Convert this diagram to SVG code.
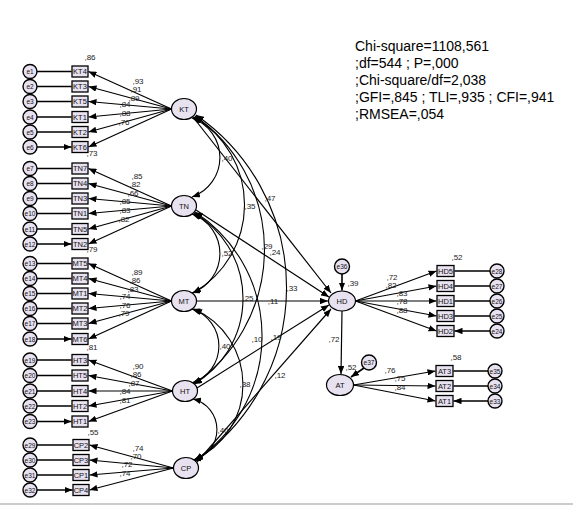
<svg xmlns="http://www.w3.org/2000/svg" width="573" height="506" viewBox="0 0 573 506">
<defs>
<marker id="ah" viewBox="0 0 10 8" refX="10" refY="4" markerWidth="8" markerHeight="6.5" markerUnits="userSpaceOnUse" orient="auto"><path d="M0,0 L10,4 L0,8 z" fill="#000"/></marker>
<marker id="ahs" viewBox="0 0 10 8" refX="10" refY="4" markerWidth="8" markerHeight="6.5" markerUnits="userSpaceOnUse" orient="auto-start-reverse"><path d="M0,0 L10,4 L0,8 z" fill="#000"/></marker>
</defs>
<style>
.bx{fill:#e8e1f0;stroke:#000;stroke-width:1.3}
.lat{fill:#e8e1f0;stroke:#000;stroke-width:1.2}
.er{fill:#e8e1f0;stroke:#000;stroke-width:1.4}
.t{font-family:"Liberation Sans",Arial,sans-serif;font-size:7.5px;text-anchor:middle;fill:#111}
.te{font-family:"Liberation Sans",Arial,sans-serif;font-size:6.5px;text-anchor:middle;fill:#111}
.n{font-family:"Liberation Sans",Arial,sans-serif;font-size:8px;text-anchor:middle;fill:#222}
.st{font-family:"Liberation Sans",Arial,sans-serif;font-size:14px;fill:#000}
.ln{fill:none;stroke:#000;stroke-width:1.2;marker-end:url(#ah)}
.el{fill:none;stroke:#000;stroke-width:1.6;marker-end:url(#ah)}
.cv{fill:none;stroke:#000;stroke-width:1.1;marker-start:url(#ahs);marker-end:url(#ah)}
</style>
<rect width="573" height="506" fill="#fff"/>
<line x1="0" y1="504" x2="573" y2="504" stroke="#bbb" stroke-width="1.5"/>

<g id="connectors">
<path class="el" d="M37,71.5H71.5M37,86.5H71.5M37,101.5H71.5M37,117H71.5M37,132H71.5M37,147H71.5"/>
<path class="el" d="M37,168.5H71.5M37,183.5H71.5M37,198.5H71.5M37,213.5H71.5M37,229H71.5M37,244H71.5"/>
<path class="el" d="M37,263.5H71.5M37,278.5H71.5M37,293.5H71.5M37,308.5H71.5M37,323.5H71.5M37,339H71.5"/>
<path class="el" d="M37,360H71.5M37,375.5H71.5M37,391H71.5M37,406H71.5M37,421.5H71.5"/>
<path class="el" d="M37,445H72.5M37,460H72.5M37,475H72.5M37,490H72.5"/>
<path class="ln" d="M171.5,109L88.5,71.5"/><path class="ln" d="M171.5,109L88.5,86.5"/><path class="ln" d="M171.5,109L88.5,101.5"/><path class="ln" d="M171.5,109L88.5,117"/><path class="ln" d="M171.5,109L88.5,132"/><path class="ln" d="M171.5,109L88.5,147"/>
<path class="ln" d="M171.5,206L88.5,168.5"/><path class="ln" d="M171.5,206L88.5,183.5"/><path class="ln" d="M171.5,206L88.5,198.5"/><path class="ln" d="M171.5,206L88.5,213.5"/><path class="ln" d="M171.5,206L88.5,229"/><path class="ln" d="M171.5,206L88.5,244"/>
<path class="ln" d="M171.5,301L88.5,263.5"/><path class="ln" d="M171.5,301L88.5,278.5"/><path class="ln" d="M171.5,301L88.5,293.5"/><path class="ln" d="M171.5,301L88.5,308.5"/><path class="ln" d="M171.5,301L88.5,323.5"/><path class="ln" d="M171.5,301L88.5,339"/>
<path class="ln" d="M172.5,391L88.5,360"/><path class="ln" d="M172.5,391L88.5,375.5"/><path class="ln" d="M172.5,391L88.5,391"/><path class="ln" d="M172.5,391L88.5,406"/><path class="ln" d="M172.5,391L88.5,421.5"/>
<path class="ln" d="M173.5,468L89.5,445"/><path class="ln" d="M173.5,468L89.5,460"/><path class="ln" d="M173.5,468L89.5,475"/><path class="ln" d="M173.5,468L89.5,490"/>
<path class="cv" d="M192,118A41.9,41.9 0 0 1 192,197"/>
<path class="cv" d="M194,117A101.4,101.4 0 0 1 193,293"/>
<path class="cv" d="M195,116A163.3,163.3 0 0 1 194,384"/>
<path class="cv" d="M196,115A209.9,209.9 0 0 1 195,461"/>
<path class="cv" d="M192,214A41.9,41.9 0 0 1 192,293"/>
<path class="cv" d="M194,213A99.1,99.1 0 0 1 194,384"/>
<path class="cv" d="M195,212A148.2,148.2 0 0 1 195,460"/>
<path class="cv" d="M192,309A38.9,38.9 0 0 1 192,383"/>
<path class="cv" d="M194,309A82.7,82.7 0 0 1 194,460"/>
<path class="cv" d="M193,399A31.4,31.4 0 0 1 193,460"/>
<path class="ln" d="M193,117L331,293"/>
<path class="ln" d="M196,210L329,297"/>
<path class="ln" d="M196.5,301L328,301"/>
<path class="ln" d="M197,388L329,305"/>
<path class="ln" d="M197,462L331,309"/>
<path class="ln" d="M342,311L341,374"/>
<path class="el" d="M342,274L342,290.5"/>
<path class="el" d="M364,368L351,377"/>
<path class="ln" d="M355.5,301L436.5,271"/><path class="ln" d="M355.5,301L436.5,286"/><path class="ln" d="M355.5,301L436.5,301"/><path class="ln" d="M355.5,301L436.5,316"/><path class="ln" d="M355.5,301L436.5,331"/>
<path class="ln" d="M353.5,385L435.5,371"/><path class="ln" d="M353.5,385L435.5,386"/><path class="ln" d="M353.5,385L435.5,401"/>
<path class="el" d="M490,271H454.5M490,286H454.5M490,301H454.5M490,316H454.5M490,331H454.5"/>
<path class="el" d="M488,371H453.5M488,386H453.5M488,401H453.5"/>
</g>

<g id="errors-left">
<g id="e1"><circle class="er" cx="30" cy="71.5" r="7"/><text class="te" x="30" y="74">e1</text></g>
<g id="e2"><circle class="er" cx="30" cy="86.5" r="7"/><text class="te" x="30" y="89">e2</text></g>
<g id="e3"><circle class="er" cx="30" cy="101.5" r="7"/><text class="te" x="30" y="104">e3</text></g>
<g id="e4"><circle class="er" cx="30" cy="117" r="7"/><text class="te" x="30" y="119.5">e4</text></g>
<g id="e5"><circle class="er" cx="30" cy="132" r="7"/><text class="te" x="30" y="134.5">e5</text></g>
<g id="e6"><circle class="er" cx="30" cy="147" r="7"/><text class="te" x="30" y="149.5">e6</text></g>
<g id="e7"><circle class="er" cx="30" cy="168.5" r="7"/><text class="te" x="30" y="171">e7</text></g>
<g id="e8"><circle class="er" cx="30" cy="183.5" r="7"/><text class="te" x="30" y="186">e8</text></g>
<g id="e9"><circle class="er" cx="30" cy="198.5" r="7"/><text class="te" x="30" y="201">e9</text></g>
<g id="e10"><circle class="er" cx="30" cy="213.5" r="7"/><text class="te" x="30" y="216">e10</text></g>
<g id="e11"><circle class="er" cx="30" cy="229" r="7"/><text class="te" x="30" y="231.5">e11</text></g>
<g id="e12"><circle class="er" cx="30" cy="244" r="7"/><text class="te" x="30" y="246.5">e12</text></g>
<g id="e13"><circle class="er" cx="30" cy="263.5" r="7"/><text class="te" x="30" y="266">e13</text></g>
<g id="e14"><circle class="er" cx="30" cy="278.5" r="7"/><text class="te" x="30" y="281">e14</text></g>
<g id="e15"><circle class="er" cx="30" cy="293.5" r="7"/><text class="te" x="30" y="296">e15</text></g>
<g id="e16"><circle class="er" cx="30" cy="308.5" r="7"/><text class="te" x="30" y="311">e16</text></g>
<g id="e17"><circle class="er" cx="30" cy="323.5" r="7"/><text class="te" x="30" y="326">e17</text></g>
<g id="e18"><circle class="er" cx="30" cy="339" r="7"/><text class="te" x="30" y="341.5">e18</text></g>
<g id="e19"><circle class="er" cx="30" cy="360" r="7"/><text class="te" x="30" y="362.5">e19</text></g>
<g id="e20"><circle class="er" cx="30" cy="375.5" r="7"/><text class="te" x="30" y="378">e20</text></g>
<g id="e21"><circle class="er" cx="30" cy="391" r="7"/><text class="te" x="30" y="393.5">e21</text></g>
<g id="e22"><circle class="er" cx="30" cy="406" r="7"/><text class="te" x="30" y="408.5">e22</text></g>
<g id="e23"><circle class="er" cx="30" cy="421.5" r="7"/><text class="te" x="30" y="424">e23</text></g>
<g id="e29"><circle class="er" cx="30" cy="445" r="7"/><text class="te" x="30" y="447.5">e29</text></g>
<g id="e30"><circle class="er" cx="30" cy="460" r="7"/><text class="te" x="30" y="462.5">e30</text></g>
<g id="e31"><circle class="er" cx="30" cy="475" r="7"/><text class="te" x="30" y="477.5">e31</text></g>
<g id="e32"><circle class="er" cx="30" cy="490" r="7"/><text class="te" x="30" y="492.5">e32</text></g>
</g>

<g id="indicators-left">
<g id="KT4"><rect class="bx" x="72" y="66" width="16" height="11"/><text class="t" x="80" y="74.2">KT4</text></g>
<g id="KT3"><rect class="bx" x="72" y="81" width="16" height="11"/><text class="t" x="80" y="89.2">KT3</text></g>
<g id="KT5"><rect class="bx" x="72" y="96" width="16" height="11"/><text class="t" x="80" y="104.2">KT5</text></g>
<g id="KT1"><rect class="bx" x="72" y="111.5" width="16" height="11"/><text class="t" x="80" y="119.7">KT1</text></g>
<g id="KT2"><rect class="bx" x="72" y="126.5" width="16" height="11"/><text class="t" x="80" y="134.7">KT2</text></g>
<g id="KT6"><rect class="bx" x="72" y="141.5" width="16" height="11"/><text class="t" x="80" y="149.7">KT6</text></g>
<g id="TN7"><rect class="bx" x="72" y="163" width="16" height="11"/><text class="t" x="80" y="171.2">TN7</text></g>
<g id="TN4"><rect class="bx" x="72" y="178" width="16" height="11"/><text class="t" x="80" y="186.2">TN4</text></g>
<g id="TN3"><rect class="bx" x="72" y="193" width="16" height="11"/><text class="t" x="80" y="201.2">TN3</text></g>
<g id="TN1"><rect class="bx" x="72" y="208" width="16" height="11"/><text class="t" x="80" y="216.2">TN1</text></g>
<g id="TN5"><rect class="bx" x="72" y="223.5" width="16" height="11"/><text class="t" x="80" y="231.7">TN5</text></g>
<g id="TN2"><rect class="bx" x="72" y="238.5" width="16" height="11"/><text class="t" x="80" y="246.7">TN2</text></g>
<g id="MT5"><rect class="bx" x="72" y="258" width="16" height="11"/><text class="t" x="80" y="266.2">MT5</text></g>
<g id="MT4"><rect class="bx" x="72" y="273" width="16" height="11"/><text class="t" x="80" y="281.2">MT4</text></g>
<g id="MT1"><rect class="bx" x="72" y="288" width="16" height="11"/><text class="t" x="80" y="296.2">MT1</text></g>
<g id="MT2"><rect class="bx" x="72" y="303" width="16" height="11"/><text class="t" x="80" y="311.2">MT2</text></g>
<g id="MT3"><rect class="bx" x="72" y="318" width="16" height="11"/><text class="t" x="80" y="326.2">MT3</text></g>
<g id="MT6"><rect class="bx" x="72" y="333.5" width="16" height="11"/><text class="t" x="80" y="341.7">MT6</text></g>
<g id="HT3"><rect class="bx" x="72" y="354.5" width="16" height="11"/><text class="t" x="80" y="362.7">HT3</text></g>
<g id="HT5"><rect class="bx" x="72" y="370" width="16" height="11"/><text class="t" x="80" y="378.2">HT5</text></g>
<g id="HT4"><rect class="bx" x="72" y="385.5" width="16" height="11"/><text class="t" x="80" y="393.7">HT4</text></g>
<g id="HT2"><rect class="bx" x="72" y="400.5" width="16" height="11"/><text class="t" x="80" y="408.7">HT2</text></g>
<g id="HT1"><rect class="bx" x="72" y="416" width="16" height="11"/><text class="t" x="80" y="424.2">HT1</text></g>
<g id="CP2"><rect class="bx" x="73" y="439.5" width="16" height="11"/><text class="t" x="81" y="447.7">CP2</text></g>
<g id="CP3"><rect class="bx" x="73" y="454.5" width="16" height="11"/><text class="t" x="81" y="462.7">CP3</text></g>
<g id="CP1"><rect class="bx" x="73" y="469.5" width="16" height="11"/><text class="t" x="81" y="477.7">CP1</text></g>
<g id="CP4"><rect class="bx" x="73" y="484.5" width="16" height="11"/><text class="t" x="81" y="492.7">CP4</text></g>
</g>

<g id="latents">
<g id="KT"><ellipse class="lat" cx="184" cy="109" rx="12.5" ry="10.5"/><text class="t" x="184" y="111.7">KT</text></g>
<g id="TN"><ellipse class="lat" cx="184" cy="206" rx="12.5" ry="10.5"/><text class="t" x="184" y="208.7">TN</text></g>
<g id="MT"><ellipse class="lat" cx="184" cy="301" rx="12.5" ry="10.5"/><text class="t" x="184" y="303.7">MT</text></g>
<g id="HT"><ellipse class="lat" cx="185" cy="391" rx="12.5" ry="10.5"/><text class="t" x="185" y="393.7">HT</text></g>
<g id="CP"><ellipse class="lat" cx="186" cy="468" rx="12.5" ry="10.5"/><text class="t" x="186" y="470.7">CP</text></g>
<g id="HD"><ellipse class="lat" cx="342" cy="301" rx="13.5" ry="10"/><text class="t" x="342" y="303.7">HD</text></g>
<g id="AT"><ellipse class="lat" cx="340" cy="385" rx="13.5" ry="10.5"/><text class="t" x="340" y="387.7">AT</text></g>
<g id="e36"><circle class="er" cx="342" cy="266.5" r="7.5"/><text class="te" x="342" y="269">e36</text></g>
<g id="e37"><circle class="er" cx="369" cy="362.5" r="7.5"/><text class="te" x="369" y="365">e37</text></g>
</g>

<g id="indicators-right">
<g id="HD5"><rect class="bx" x="437" y="265.5" width="17" height="11"/><text class="t" x="445.5" y="273.7">HD5</text></g>
<g id="HD4"><rect class="bx" x="437" y="280.5" width="17" height="11"/><text class="t" x="445.5" y="288.7">HD4</text></g>
<g id="HD1"><rect class="bx" x="437" y="295.5" width="17" height="11"/><text class="t" x="445.5" y="303.7">HD1</text></g>
<g id="HD3"><rect class="bx" x="437" y="310.5" width="17" height="11"/><text class="t" x="445.5" y="318.7">HD3</text></g>
<g id="HD2"><rect class="bx" x="437" y="325.5" width="17" height="11"/><text class="t" x="445.5" y="333.7">HD2</text></g>
<g id="AT3"><rect class="bx" x="436" y="365.5" width="17" height="11"/><text class="t" x="444.5" y="373.7">AT3</text></g>
<g id="AT2"><rect class="bx" x="436" y="380.5" width="17" height="11"/><text class="t" x="444.5" y="388.7">AT2</text></g>
<g id="AT1"><rect class="bx" x="436" y="395.5" width="17" height="11"/><text class="t" x="444.5" y="403.7">AT1</text></g>
<g id="e28"><circle class="er" cx="497" cy="271" r="7"/><text class="te" x="497" y="273.5">e28</text></g>
<g id="e27"><circle class="er" cx="497" cy="286" r="7"/><text class="te" x="497" y="288.5">e27</text></g>
<g id="e26"><circle class="er" cx="497" cy="301" r="7"/><text class="te" x="497" y="303.5">e26</text></g>
<g id="e25"><circle class="er" cx="497" cy="316" r="7"/><text class="te" x="497" y="318.5">e25</text></g>
<g id="e24"><circle class="er" cx="497" cy="331" r="7"/><text class="te" x="497" y="333.5">e24</text></g>
<g id="e35"><circle class="er" cx="495" cy="371" r="7"/><text class="te" x="495" y="373.5">e35</text></g>
<g id="e34"><circle class="er" cx="495" cy="386" r="7"/><text class="te" x="495" y="388.5">e34</text></g>
<g id="e33"><circle class="er" cx="495" cy="401" r="7"/><text class="te" x="495" y="403.5">e33</text></g>
</g>

<g id="estimates">
<text class="n" x="138" y="84">,93</text><text class="n" x="136" y="92">,91</text><text class="n" x="134" y="100.5">,89</text>
<text class="n" x="125" y="107">,84</text><text class="n" x="125" y="115.5">,88</text><text class="n" x="124" y="125">,76</text>
<text class="n" x="137" y="179">,85</text><text class="n" x="135" y="187">,82</text><text class="n" x="133" y="195.5">,66</text>
<text class="n" x="125" y="204">,85</text><text class="n" x="125" y="213">,83</text><text class="n" x="124" y="222">,82</text>
<text class="n" x="137" y="275">,89</text><text class="n" x="135" y="283">,86</text><text class="n" x="133" y="291.5">,83</text>
<text class="n" x="125" y="299">,74</text><text class="n" x="125" y="307.5">,76</text><text class="n" x="124" y="316">,79</text>
<text class="n" x="138" y="369">,90</text><text class="n" x="136" y="377">,86</text><text class="n" x="134" y="385.5">,87</text>
<text class="n" x="125" y="394">,84</text><text class="n" x="125" y="403">,81</text>
<text class="n" x="138" y="451">,74</text><text class="n" x="136" y="459">,70</text><text class="n" x="127" y="467">,72</text><text class="n" x="125" y="475.5">,74</text>
<text class="n" x="90" y="60">,86</text><text class="n" x="92" y="156">,73</text><text class="n" x="92" y="252">,79</text><text class="n" x="92" y="350">,81</text><text class="n" x="93" y="434.5">,55</text>
<text class="n" x="227" y="161">,40</text><text class="n" x="250" y="209">,35</text><text class="n" x="270" y="201">,47</text>
<text class="n" x="267" y="248.5">,29</text><text class="n" x="275" y="255">,24</text><text class="n" x="227" y="256">,52</text>
<text class="n" x="248" y="301">,25</text><text class="n" x="273" y="304">,11</text><text class="n" x="292" y="291">,33</text>
<text class="n" x="225" y="349">,40</text><text class="n" x="257" y="342">,10</text><text class="n" x="276" y="340">,19</text>
<text class="n" x="245" y="387">,38</text><text class="n" x="280" y="378">,12</text><text class="n" x="223" y="433">,40</text>
<text class="n" x="392" y="279.5">,72</text><text class="n" x="391" y="288">,82</text><text class="n" x="402" y="295.5">,83</text>
<text class="n" x="402" y="304">,78</text><text class="n" x="402" y="312.5">,88</text>
<text class="n" x="353" y="286">,39</text><text class="n" x="334" y="342">,72</text><text class="n" x="351" y="370">,52</text>
<text class="n" x="390" y="373">,76</text><text class="n" x="400" y="381">,75</text><text class="n" x="400" y="390">,84</text>
<text class="n" x="457" y="260">,52</text><text class="n" x="456" y="360">,58</text>
</g>

<g id="fit-stats">
<text class="st" x="355" y="51">Chi-square=1108,561</text>
<text class="st" x="355" y="68">;df=544 ; P=,000</text>
<text class="st" x="355" y="85">;Chi-square/df=2,038</text>
<text class="st" x="355" y="102">;GFI=,845 ; TLI=,935 ; CFI=,941</text>
<text class="st" x="355" y="119">;RMSEA=,054</text>
</g>
</svg>
